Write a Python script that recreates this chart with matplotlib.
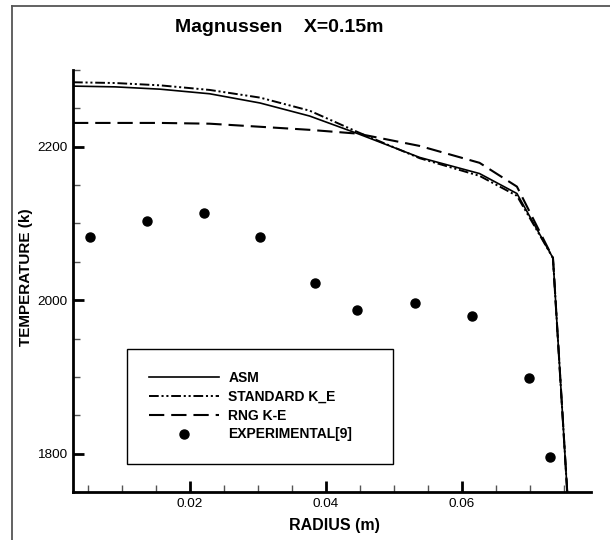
import matplotlib
matplotlib.use("Agg")
import matplotlib.pyplot as plt
from matplotlib.lines import Line2D
from matplotlib.ticker import MultipleLocator, FuncFormatter

plt.rcParams['font.family'] = ['Liberation Sans', 'DejaVu Sans']
plt.rcParams['lines.scale_dashes'] = False

# values
radius = [0.0028, 0.0090, 0.0156, 0.0229, 0.0303, 0.0376, 0.0447, 0.0538, 0.0626, 0.0681, 0.0734, 0.0755]
temp_asm = [2279, 2278, 2275, 2269, 2257, 2240, 2217, 2186, 2165, 2139, 2055, 1750]
temp_std = [2284, 2283, 2280, 2274, 2264, 2247, 2219, 2185, 2162, 2136, 2055, 1750]
temp_rng = [2231, 2231, 2231, 2230, 2226, 2222, 2217, 2201, 2179, 2148, 2055, 1750]

exp_radius = [0.0053, 0.0137, 0.0221, 0.0303, 0.0384, 0.0446, 0.0531, 0.0615, 0.0699, 0.0729]
exp_temp = [2082, 2103, 2114, 2082, 2022, 1987, 1996, 1979, 1898, 1795]

fig = plt.figure(figsize=(6.1, 5.4), dpi=100)
ax = fig.add_axes([0.1197, 0.0889, 0.8492, 0.7815])

ax.plot(radius, temp_asm, color='black', lw=1.2, label='ASM')
ax.plot(radius, temp_std, color='black', lw=1.4,
        linestyle=(0, (7, 2, 1.5, 2, 1.5, 2)), label='STANDARD K_E')
ax.plot(radius, temp_rng, color='black', lw=1.5,
        linestyle=(0, (11, 5)), label='RNG K-E')
ax.plot(exp_radius, exp_temp, 'o', color='black', markersize=6.5,
        linestyle='none', label='EXPERIMENTAL[9]')

ax.set_xlim(0.0028, 0.079)
ax.set_ylim(1750, 2300)
ax.xaxis.set_major_locator(MultipleLocator(0.02))
ax.xaxis.set_minor_locator(MultipleLocator(0.005))
ax.yaxis.set_major_locator(MultipleLocator(200))
ax.yaxis.set_minor_locator(MultipleLocator(50))
ax.xaxis.set_major_formatter(FuncFormatter(lambda v, p: f"{v:g}"))

ax.spines['top'].set_visible(False)
ax.spines['right'].set_visible(False)
for s in ['left', 'bottom']:
    ax.spines[s].set_linewidth(2)
ax.tick_params(which='major', direction='in', length=8, width=2, labelsize=9.7, pad=4)
ax.tick_params(which='minor', direction='in', length=5, width=1, color='#555555')

fig.text(0.457, 0.95, 'Magnussen    X=0.15m', ha='center', va='center',
         fontsize=14, fontweight='bold')
fig.text(0.548, 0.026, 'RADIUS (m)', ha='center', va='center',
         fontsize=11.5, fontweight='bold')
fig.text(0.0426, 0.487, 'TEMPERATURE (k)', ha='center', va='center',
         rotation=90, fontsize=11, fontweight='bold')

leg = ax.legend(loc='center', bbox_to_anchor=(0.104, 0.071, 0.514, 0.265),
                mode='expand', fancybox=False, frameon=True, framealpha=1,
                edgecolor='black', prop={'weight': 'bold', 'size': 10},
                handlelength=5.0, handletextpad=0.7, labelspacing=0.35,
                borderpad=1.6, borderaxespad=0)
leg.get_frame().set_linewidth(1.0)

# figure border (only left and top edges show)
fig.add_artist(Line2D([0.0197, 0.0197], [0, 0.9889], color='#555555', lw=1.3))
fig.add_artist(Line2D([0.0197, 1.0], [0.9889, 0.9889], color='#555555', lw=1.3))

fig.savefig('out.png', dpi=100)
